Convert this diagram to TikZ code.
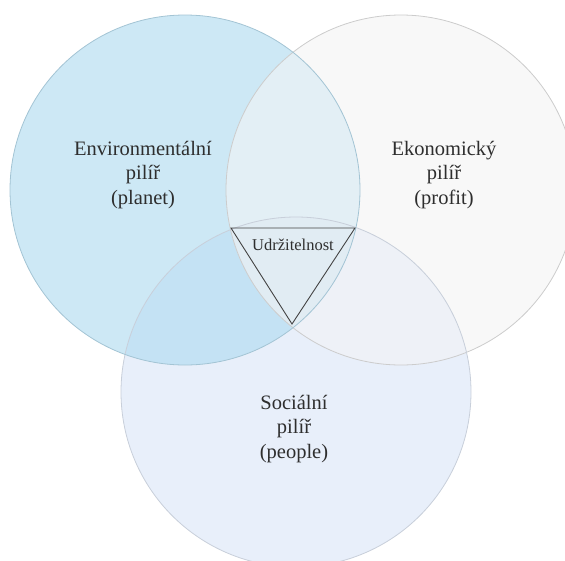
\documentclass[tikz,border=0pt]{standalone}
\usepackage{fontspec}
\setmainfont{Liberation Serif}
\usetikzlibrary{positioning}

\definecolor{envblue}{HTML}{CDE8F5}
\definecolor{ecogray}{HTML}{F8F8F8}
\definecolor{socblue}{HTML}{E8EFFA}
\definecolor{envecoblue}{HTML}{E3EFF5}
\definecolor{envsocblue}{HTML}{C4E2F4}
\definecolor{ecosocblue}{HTML}{EEF1F7}
\definecolor{allblue}{HTML}{E1ECF3}
\definecolor{textgray}{HTML}{2E2E2E}
\definecolor{envrim}{HTML}{A3C4D4}
\definecolor{ecorim}{HTML}{CCCCCC}
\definecolor{socrim}{HTML}{C8CFDA}

\tikzset{
  pillar/.style={align=center, text=textgray, font=\fontsize{20.5}{24.5}\selectfont},
  rim/.style={line width=0.8pt},
  core/.style={draw=textgray!90, line width=0.9pt, line join=miter}
}

\begin{document}
\begin{tikzpicture}[x=1pt,y=-1pt]
\newcommand{\circrad}{175}
\useasboundingbox (0,0) rectangle (565,560);
\coordinate (env) at (185,190);
\coordinate (eco) at (401,190);
\coordinate (soc) at (296,392);
% plain circles
\fill[color=envblue] (env) circle (\circrad pt);
\fill[color=ecogray] (eco) circle (\circrad pt);
\fill[color=socblue] (soc) circle (\circrad pt);
% overlaps
\begin{scope}
  \clip (env) circle (\circrad pt);
  \fill[color=envecoblue] (eco) circle (\circrad pt);
  \fill[color=envsocblue] (soc) circle (\circrad pt);
  \clip (eco) circle (\circrad pt);
  \fill[color=allblue] (soc) circle (\circrad pt);
\end{scope}
\begin{scope}
  \clip (eco) circle (\circrad pt);
  \clip (soc) circle (\circrad pt);
  \fill[color=ecosocblue] (-10,-10) rectangle (600,600);
  \clip (env) circle (\circrad pt);
  \fill[color=allblue] (-10,-10) rectangle (600,600);
\end{scope}
% outlines
\draw[rim, color=ecorim] (eco) circle (\circrad pt);
\draw[rim, color=socrim] (soc) circle (\circrad pt);
\draw[rim, color=envrim] (env) circle (\circrad pt);
% triangle
\coordinate (tl) at (231,228);
\coordinate (tr) at (355,228);
\coordinate (tb) at (292,324);
\draw[core] (tl) -- (tr) -- (tb) -- cycle;
\node[text=textgray, font=\fontsize{16.5}{20}\selectfont] (udr) at (293,245) {Udržitelnost};
% labels
\node[pillar] (envlab) at (143,175) {Environmentální\\pilíř\\(planet)};
\node[pillar] (ecolab) at (444,175) {Ekonomický\\pilíř\\(profit)};
\node[pillar] (soclab) at (294,429) {Sociální\\pilíř\\(people)};
\end{tikzpicture}
\end{document}
